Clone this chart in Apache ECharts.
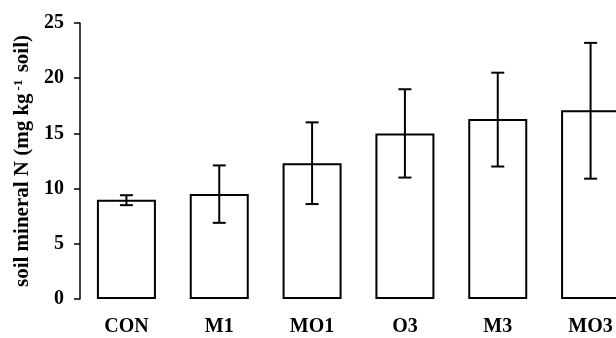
<!DOCTYPE html>
<html>
<head>
<meta charset="utf-8">
<script src="https://cdn.jsdelivr.net/npm/echarts@6/dist/echarts.min.js"></script>
<style>html,body{margin:0;padding:0;background:#fff;}#c{width:616px;height:338px;}</style>
</head>
<body>
<div id="c"></div>
<script>
var categories = ['CON', 'M1', 'MO1', 'O3', 'M3', 'MO3'];
var means = [9.0, 9.5, 12.3, 15.0, 16.3, 17.1];
var errLow = [8.5, 6.9, 8.6, 11.0, 12.0, 10.9];
var errHigh = [9.4, 12.1, 16.0, 19.0, 20.5, 23.2];
var yTicks = [0, 5, 10, 15, 20, 25];

var FONT = '"Liberation Serif", "DejaVu Serif", serif';
var chart = echarts.init(document.getElementById('c'), null, {renderer: 'canvas'});
var errData = categories.map(function (c, i) { return [i, errLow[i], errHigh[i]]; });

chart.setOption({
  animation: false,
  backgroundColor: '#fff',
  grid: {left: 80, top: 23, right: -21, bottom: 39, containLabel: false, outerBoundsMode: 'none'},
  xAxis: {
    type: 'category',
    data: categories,
    boundaryGap: true,
    axisLine: {show: false},
    axisTick: {show: false},
    axisLabel: {color: '#000', fontFamily: FONT, fontWeight: 'bold', fontSize: 20, margin: 18}
  },
  yAxis: {
    type: 'value',
    min: yTicks[0], max: yTicks[yTicks.length - 1], interval: 5,
    splitLine: {show: false},
    axisLine: {show: true, lineStyle: {color: '#000', width: 1.5}},
    axisTick: {show: true, length: 6, lineStyle: {color: '#000', width: 1.5}},
    axisLabel: {color: '#000', fontFamily: FONT, fontWeight: 'bold', fontSize: 20, margin: 16},
    name: '{b|soil mineral N (mg kg}{sup|-1}{b| soil)}',
    nameLocation: 'middle',
    nameGap: 46,
    nameRotate: 90,
    nameTextStyle: {
      rich: {
        b: {fontFamily: FONT, fontWeight: 'bold', fontSize: 21, color: '#000'},
        sup: {fontFamily: FONT, fontWeight: 'bold', fontSize: 13, color: '#000', verticalAlign: 'top', padding: [0, 2, 0, 3]}
      }
    }
  },
  series: [
    {
      type: 'bar',
      data: means,
      barWidth: 59,
      itemStyle: {color: '#fff', borderColor: '#000', borderWidth: 2}
    },
    {
      type: 'custom',
      data: errData,
      z: 10,
      renderItem: function (params, api) {
        var x = api.value(0);
        var lo = api.coord([x, api.value(1)]);
        var hi = api.coord([x, api.value(2)]);
        var w = 6.5;
        var st = {stroke: '#000', lineWidth: 2};
        return {
          type: 'group',
          children: [
            {type: 'line', shape: {x1: hi[0], y1: hi[1], x2: lo[0], y2: lo[1]}, style: st},
            {type: 'line', shape: {x1: hi[0] - w, y1: hi[1], x2: hi[0] + w, y2: hi[1]}, style: st},
            {type: 'line', shape: {x1: lo[0] - w, y1: lo[1], x2: lo[0] + w, y2: lo[1]}, style: st}
          ]
        };
      }
    }
  ]
});
</script>
</body>
</html>
